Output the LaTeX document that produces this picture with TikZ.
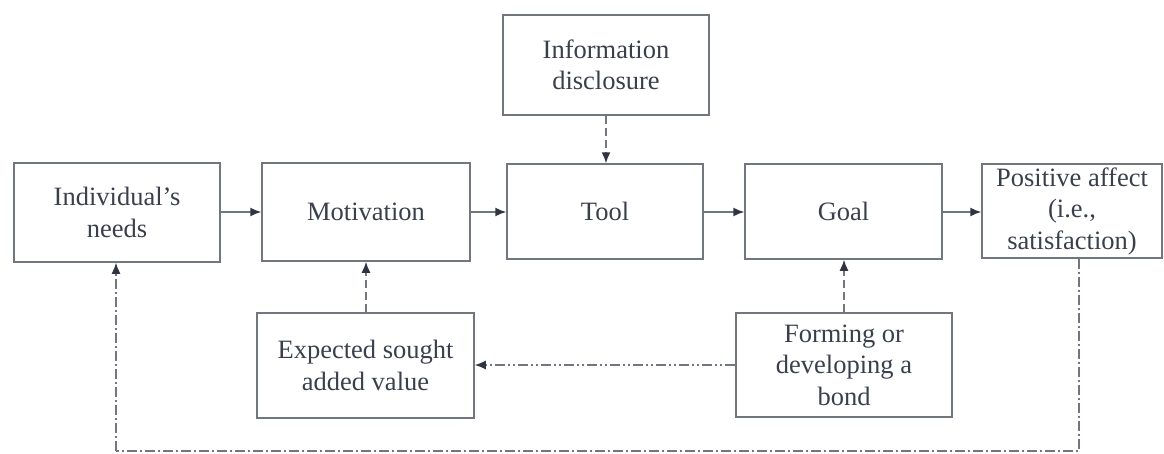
\documentclass[tikz,border=0pt]{standalone}
\usepackage{fontspec}
\setmainfont{Liberation Serif}
\usetikzlibrary{arrows.meta}
\definecolor{txt}{HTML}{3A3F4C}
\definecolor{ln}{HTML}{72767F}
\definecolor{tip}{HTML}{2F3342}
\tikzset{
  box/.style={draw=ln, line width=1.5pt, minimum width=#1, inner sep=0pt, text=txt, align=center,
    font=\fontsize{26.5}{31.5}\selectfont},
  conn/.style={draw=ln, line width=1.5pt, -{Latex[length=11pt,width=9pt,fill=tip,color=tip]}},
  dashconn/.style={conn, dash pattern=on 8pt off 4pt},
  dotdash/.style={conn, dash pattern=on 10pt off 3pt on 2pt off 3pt on 2pt off 3pt},
  loopline/.style={draw=ln, line width=1.5pt, dash pattern=on 10pt off 3pt on 2pt off 3pt}
}
\begin{document}
\begin{tikzpicture}[x=1pt,y=-1pt]
\useasboundingbox (0,0) rectangle (1164,453);
\node[box=206pt, minimum height=99pt] (need) at (117,212.5) {Individual's\\needs};
\node[box=208pt, minimum height=98pt] (mot) at (366,212) {Motivation};
\node[box=196pt, minimum height=95pt] (tool) at (605,211.5) {Tool};
\node[box=197pt, minimum height=95pt] (goal) at (843.5,211.5) {Goal};
\node[box=180pt, minimum height=94pt] (pos) at (1072,211) {Positive affect\\(i.e.,\\satisfaction)};
\node[box=206pt, minimum height=100pt] (info) at (606,65) {Information\\disclosure};
\node[box=217pt, minimum height=105pt] (exp) at (365.5,365.5) {Expected sought\\added value};
\node[box=216pt, minimum height=104pt] (form) at (844,365) {Forming or\\developing a\\bond};
\coordinate (br) at (1079,451);
\coordinate (bl) at (116,451);
\draw[conn] (need.east |- 0,212) -- (mot.west |- 0,212);
\draw[conn] (mot.east |- 0,212) -- (tool.west |- 0,212);
\draw[conn] (tool.east |- 0,212) -- (goal.west |- 0,212);
\draw[conn] (goal.east |- 0,212) -- (pos.west |- 0,212);
\draw[dashconn] (info.south) -- (tool.north -| info.south);
\draw[dashconn] (exp.north -| mot.south) -- (mot.south);
\draw[dashconn] (form.north) -- (goal.south -| form.north);
\draw[dotdash] (form.west) -- (exp.east |- form.west);
\draw[loopline] (pos.south -| br) -- (br) -- (bl);
\draw[conn, dash pattern=on 10pt off 3pt on 2pt off 3pt] (bl) -- (need.south -| bl);
\end{tikzpicture}
\end{document}
